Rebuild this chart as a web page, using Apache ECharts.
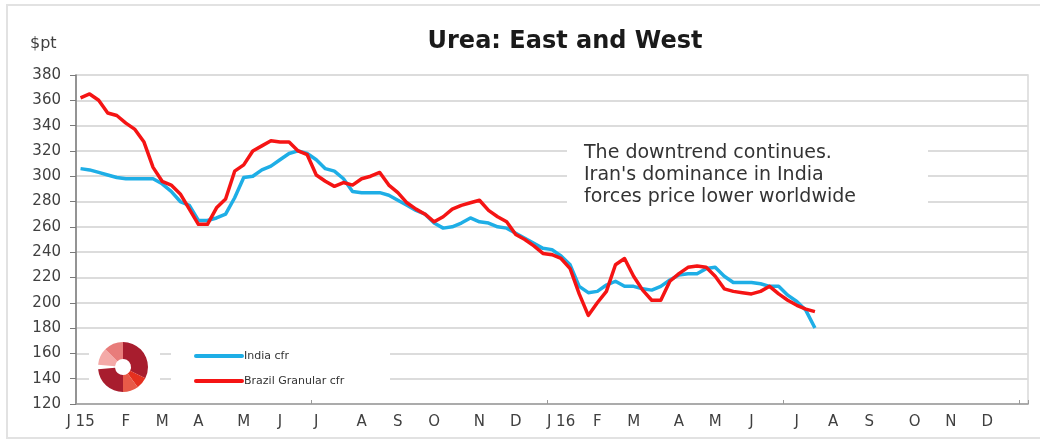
<!DOCTYPE html>
<html>
<head>
<meta charset="utf-8">
<script src="https://cdn.jsdelivr.net/npm/echarts@6/dist/echarts.min.js"></script>
<style>
  html, body { margin: 0; padding: 0; background: #fff; }
  #chart { width: 1040px; height: 441px; }
</style>
</head>
<body>
<div id="chart"></div>
<script>
// weekly prices, $/t, from the first week of Jan 2015
var firstWeek = '2015-01-01';
var weekCount = 105;
var monthInitials = ['J', 'F', 'M', 'A', 'M', 'J', 'J', 'A', 'S', 'O', 'N', 'D'];

var indiaCfr = [306, 305, 303, 301, 299, 298, 298, 298, 298, 294,
    288, 280, 277, 265, 265, 267, 270, 283, 299, 300,
    305, 308, 313, 318, 320, 318, 313, 306, 304, 298,
    288, 287, 287, 287, 285, 281, 277, 273, 270, 263,
    259, 260, 263, 267, 264, 263, 260, 259, 255, 251,
    247, 243, 242, 237, 230, 213, 208, 209, 214, 217,
    213, 213, 211, 210, 213, 218, 222, 223, 223, 227,
    228, 221, 216, 216, 216, 215, 213, 213, 206, 201,
    194, 180];

var brazilGranularCfr = [362, 365, 360, 350, 348, 342, 337, 327, 307, 296,
    293, 286, 274, 262, 262, 275, 282, 304, 309, 320,
    324, 328, 327, 327, 320, 317, 301, 296, 292, 295,
    293, 298, 300, 303, 293, 287, 279, 274, 270, 264,
    268, 274, 277, 279, 281, 273, 268, 264, 254, 250,
    245, 239, 238, 235, 227, 207, 190, 200, 209, 230,
    235, 221, 210, 202, 202, 217, 223, 228, 229, 228,
    221, 211, 209, 208, 207, 209, 213, 207, 202, 198,
    195, 193];

var weeks = [];
var d0 = new Date(firstWeek + 'T00:00:00Z');
for (var i = 0; i < weekCount; i++) {
    var d = new Date(d0.getTime() + i * 7 * 86400000);
    weeks.push(d.toISOString().slice(0, 10));
}

function isFirstWeekOfMonth(index) {
    if (index === 0) return true;
    return weeks[index].slice(5, 7) !== weeks[index - 1].slice(5, 7);
}

var chart = echarts.init(document.getElementById('chart'));

var logoCx = 123, logoCy = 367, logoR = 25, logoR0 = 8;
function logoPiece(a0, a1, color) {
    return {
        type: 'sector', z: 10,
        shape: { cx: logoCx, cy: logoCy, r: logoR, r0: logoR0, startAngle: a0 * Math.PI, endAngle: a1 * Math.PI },
        style: { fill: color }
    };
}

var option = {
    backgroundColor: '#fff',
    animation: false,
    title: {
        text: 'Urea: East and West',
        left: 560,
        top: 25,
        textAlign: 'center',
        textStyle: { fontFamily: 'DejaVu Sans', fontSize: 24, fontWeight: 'bold', color: '#1a1a1a' }
    },
    grid: {
        left: 76, right: 12, top: 75, bottom: 37,
        show: true, borderColor: '#d9d9d9', borderWidth: 1.5
    },
    xAxis: {
        type: 'category',
        data: weeks,
        boundaryGap: true,
        axisLine: { lineStyle: { color: '#9a9a9a', width: 1.5 } },
        axisTick: { show: true, inside: true, interval: 25, length: 4, lineStyle: { color: '#9a9a9a' } },
        axisLabel: {
            interval: function (index) { return isFirstWeekOfMonth(index); },
            formatter: function (value) {
                var m = parseInt(value.slice(5, 7), 10) - 1;
                return m === 0 ? monthInitials[m] + ' ' + value.slice(2, 4) : monthInitials[m];
            },
            margin: 11,
            fontFamily: 'DejaVu Sans',
            fontSize: 15,
            color: '#404040'
        },
        splitLine: { show: false }
    },
    yAxis: {
        type: 'value',
        min: 120,
        max: 380,
        interval: 20,
        axisLine: { show: true, lineStyle: { color: '#7a7a7a', width: 1.5 } },
        axisTick: { show: true, length: 6, lineStyle: { color: '#7a7a7a' } },
        axisLabel: { margin: 15, fontFamily: 'DejaVu Sans', fontSize: 15, color: '#404040' },
        splitLine: { lineStyle: { color: '#dcdcdc', width: 2 } }
    },
    legend: { show: false },
    series: [
        {
            name: 'India cfr',
            type: 'line',
            data: indiaCfr,
            showSymbol: false,
            lineStyle: { color: '#1eaee6', width: 3.5, join: 'round' },
            itemStyle: { color: '#1eaee6' }
        },
        {
            name: 'Brazil Granular cfr',
            type: 'line',
            data: brazilGranularCfr,
            showSymbol: false,
            lineStyle: { color: '#f51414', width: 3.5, join: 'round' },
            itemStyle: { color: '#f51414' }
        }
    ],
    graphic: [
        {
            type: 'rect', z: 0, silent: true,
            shape: { x: 7, y: 5, width: 1045, height: 433 },
            style: { fill: 'none', stroke: '#e2e2e2', lineWidth: 2 }
        },
        {
            type: 'text', z: 10,
            style: { x: 30, y: 44, text: '$pt', verticalAlign: 'middle', font: '16px "DejaVu Sans"', fill: '#404040' }
        },
        // logo
        { type: 'rect', z: 8, shape: { x: 89, y: 340, width: 71, height: 55 }, style: { fill: '#fff' } },
        logoPiece(1.03, 1.25, '#f4aaa8'),
        logoPiece(1.25, 1.5, '#e87c7a'),
        logoPiece(1.5, 2.15, '#a81d2e'),
        logoPiece(0.15, 0.3, '#e5301f'),
        logoPiece(0.3, 0.5, '#e85a48'),
        logoPiece(0.5, 0.97, '#a81d2e'),
        // legend
        { type: 'rect', z: 8, shape: { x: 171, y: 340, width: 219, height: 55 }, style: { fill: '#fff' } },
        { type: 'line', z: 10, shape: { x1: 196, y1: 356, x2: 242, y2: 356 }, style: { stroke: '#1eaee6', lineWidth: 4, lineCap: 'round' } },
        { type: 'text', z: 10, style: { x: 244, y: 356, text: 'India cfr', verticalAlign: 'middle', font: '11px "DejaVu Sans"', fill: '#333' } },
        { type: 'line', z: 10, shape: { x1: 196, y1: 381, x2: 242, y2: 381 }, style: { stroke: '#f51414', lineWidth: 4, lineCap: 'round' } },
        { type: 'text', z: 10, style: { x: 244, y: 381, text: 'Brazil Granular cfr', verticalAlign: 'middle', font: '11px "DejaVu Sans"', fill: '#333' } },
        // annotation
        { type: 'rect', z: 8, shape: { x: 567, y: 140, width: 361, height: 72 }, style: { fill: '#fff' } },
        {
            type: 'text', z: 10,
            style: {
                x: 584, y: 142,
                text: "The downtrend continues.\nIran's dominance in India\nforces price lower worldwide",
                verticalAlign: 'top',
                font: '19px "DejaVu Sans"',
                lineHeight: 22,
                fill: '#333'
            }
        }
    ]
};

chart.setOption(option);
window.addEventListener('resize', function () {
    chart.resize();
});
</script>
</body>
</html>
